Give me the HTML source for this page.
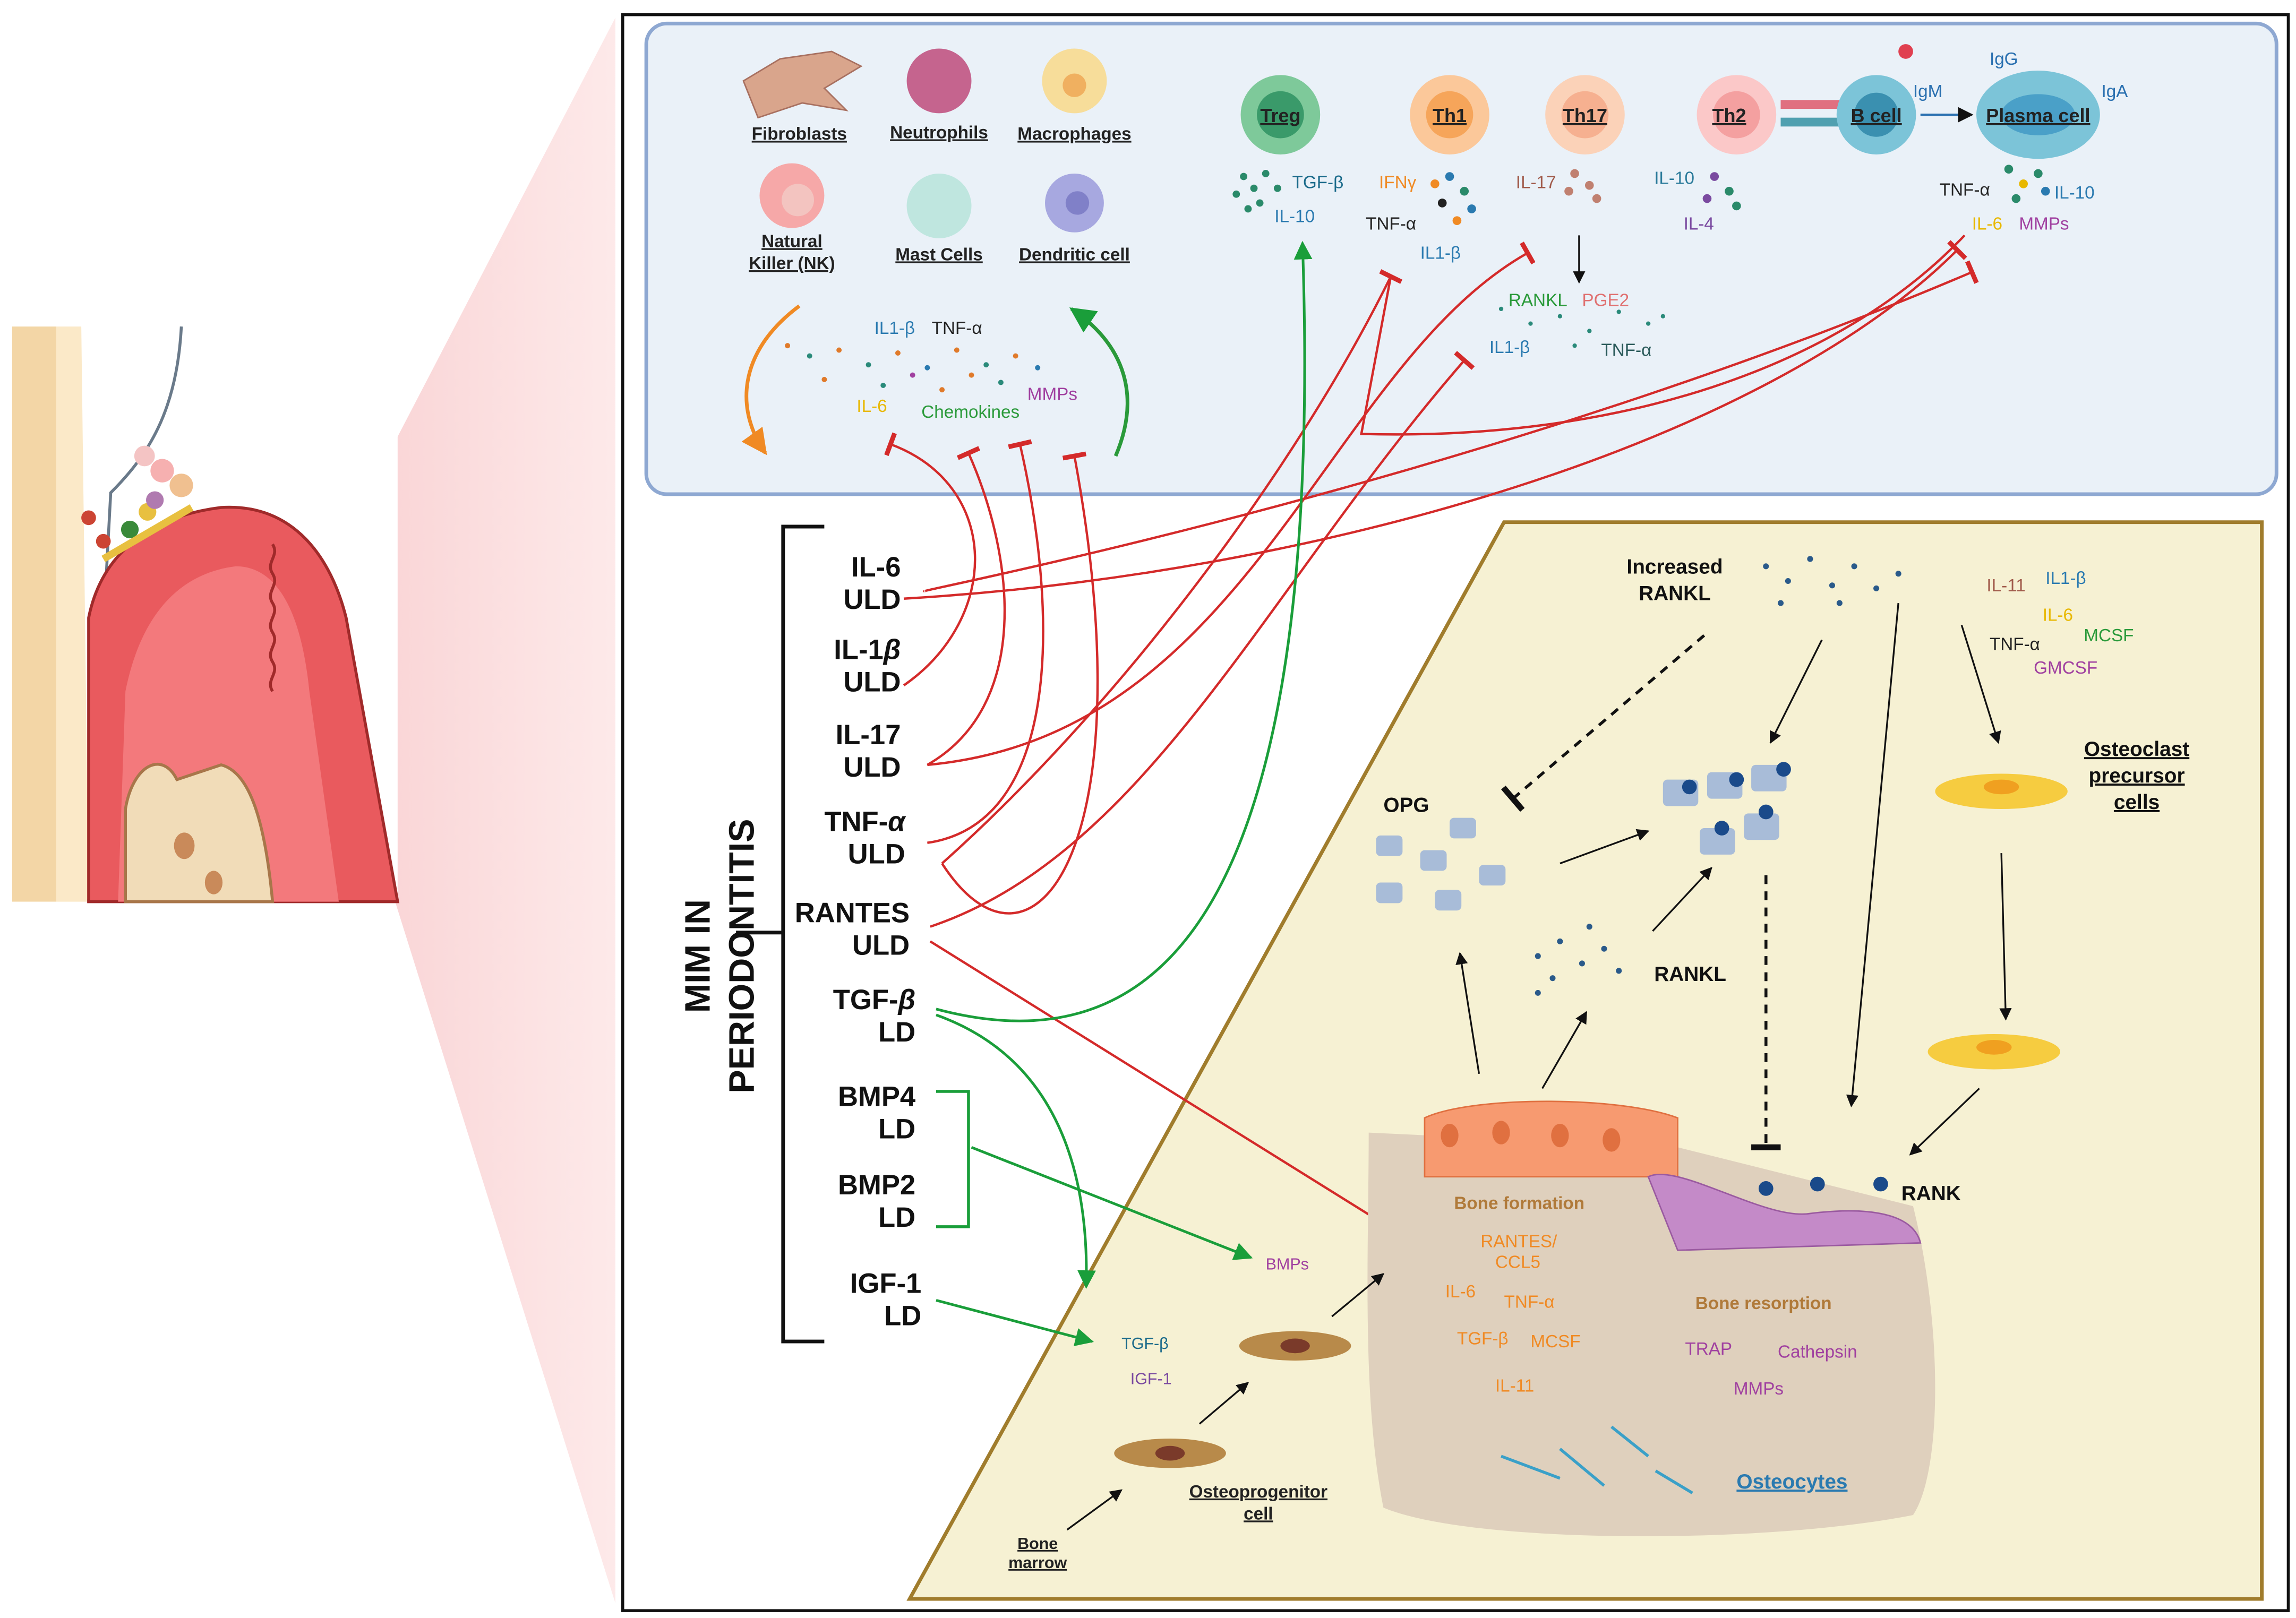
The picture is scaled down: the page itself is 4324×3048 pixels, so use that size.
<!DOCTYPE html>
<html><head><meta charset="utf-8"><style>
html,body{margin:0;padding:0;background:#fff}
svg{display:block}
text{font-family:"Liberation Sans",sans-serif}
</style></head><body>
<svg width="4324" height="3048" viewBox="0 0 1560 1100" xmlns="http://www.w3.org/2000/svg">
<defs>
<marker id="ab" viewBox="0 0 10 10" refX="9" refY="5" markerWidth="7" markerHeight="7" orient="auto"><path d="M0,0L10,5L0,10z" fill="#111"/></marker>
<marker id="ag" viewBox="0 0 10 10" refX="9" refY="5" markerWidth="7" markerHeight="7" orient="auto"><path d="M0,0L10,5L0,10z" fill="#1a9e3a"/></marker>
<marker id="ao" viewBox="0 0 10 10" refX="9" refY="5" markerWidth="7" markerHeight="7" orient="auto"><path d="M0,0L10,5L0,10z" fill="#f08a24"/></marker>
<marker id="tr" viewBox="0 0 10 10" refX="5" refY="5" markerWidth="10" markerHeight="10" orient="auto"><path d="M5,0L5,10" stroke="#d42a2a" stroke-width="2"/></marker>
<marker id="tb" viewBox="0 0 10 10" refX="5" refY="5" markerWidth="10" markerHeight="10" orient="auto"><path d="M5,0L5,10" stroke="#111" stroke-width="2"/></marker>
<linearGradient id="pk" x1="0" x2="1"><stop offset="0" stop-color="#f7c6c8"/><stop offset="1" stop-color="#fde4e4"/></linearGradient>
</defs>
<rect width="1560" height="1100" fill="#fff"/>
<!-- zoom trapezoid -->
<polygon points="232,370 418,12 418,1090 268,612" fill="url(#pk)" opacity="0.8"/>
<!-- tooth panel -->
<rect x="8" y="222" width="262" height="391" fill="#fff"/>
<rect x="8" y="222" width="30" height="391" fill="#f3d6a6"/>
<path d="M38,222 L55,222 L60,613 L38,613z" fill="#fbe9c8"/>
<path d="M123,222 C120,280 100,310 75,335 L60,613" fill="none" stroke="#6a7a8a" stroke-width="2"/>
<path d="M60,613 L60,420 C70,370 110,350 150,345 C200,342 225,380 235,420 L270,613z" fill="#e95a5e" stroke="#a02a2a" stroke-width="2"/>
<path d="M80,613 L85,470 C95,420 120,390 160,385 C190,385 205,420 210,470 L230,613z" fill="#f3797c"/>
<path d="M85,613 L85,550 C90,520 110,510 120,530 L150,520 C170,525 180,560 185,613z" fill="#f1dcb8" stroke="#a8764a" stroke-width="2"/>
<ellipse cx="125" cy="575" rx="7" ry="9" fill="#c98a5a"/><ellipse cx="145" cy="600" rx="6" ry="8" fill="#c98a5a"/>
<path d="M185,370 c5,8 -5,12 0,20 c5,8 -5,12 0,20 c5,8 -5,12 0,20 c5,8 -5,12 0,20 c5,8 -5,12 0,20" stroke="#a02a2a" fill="none" stroke-width="2"/>
<g fill="#c43">
<circle cx="60" cy="352" r="5"/><circle cx="70" cy="368" r="5"/><circle cx="88" cy="360" r="6" fill="#3a8a3a"/><circle cx="100" cy="348" r="6" fill="#e8c040"/><circle cx="110" cy="320" r="8" fill="#f6b0b0"/><circle cx="123" cy="330" r="8" fill="#f0c090"/><circle cx="98" cy="310" r="7" fill="#f4c4c4"/><circle cx="105" cy="340" r="6" fill="#b07ab0"/></g>
<path d="M70,380 L130,345" stroke="#e8c040" stroke-width="5"/>
<!-- main frame -->
<rect x="423" y="10" width="1132" height="1085" fill="#fff" stroke="#111" stroke-width="2"/>
<rect x="439" y="16" width="1108" height="320" rx="14" fill="#eaf1f8" stroke="#8ea8d2" stroke-width="2.5"/>
<polygon points="1022,355 1537,355 1537,1087 618,1087" fill="#f6f1d3" stroke="#a07c2c" stroke-width="2.5"/>
<!-- top panel cells -->
<g font-size="12" font-weight="bold" text-decoration="underline" text-anchor="middle" fill="#222">
<path d="M505,55 L530,40 L565,35 L585,45 L560,60 L575,75 L545,70 L515,80 z" fill="#d9a58c" stroke="#a87060"/>
<text x="543" y="95">Fibroblasts</text>
<circle cx="638" cy="55" r="22" fill="#c5648e"/><text x="638" y="94">Neutrophils</text>
<circle cx="730" cy="55" r="22" fill="#f7dd9a"/><circle cx="730" cy="58" r="8" fill="#f0b060"/><text x="730" y="95">Macrophages</text>
<circle cx="538" cy="133" r="22" fill="#f6a8a8"/><circle cx="542" cy="136" r="11" fill="#f3c4c0"/><text x="538" y="168">Natural</text><text x="538" y="183">Killer (NK)</text>
<circle cx="638" cy="140" r="22" fill="#bfe6df"/><text x="638" y="177">Mast Cells</text>
<circle cx="730" cy="138" r="20" fill="#a7a8e0"/><circle cx="732" cy="138" r="8" fill="#8080c8"/><text x="730" y="177">Dendritic cell</text>
</g>
<g font-size="13" font-weight="bold" text-decoration="underline" text-anchor="middle" fill="#222">
<circle cx="870" cy="78" r="27" fill="#7ec99a"/><circle cx="870" cy="78" r="16" fill="#3a9a6a"/><text x="870" y="83">Treg</text>
<circle cx="985" cy="78" r="27" fill="#fbc89a"/><circle cx="985" cy="78" r="16" fill="#f6a55a"/><text x="985" y="83">Th1</text>
<circle cx="1077" cy="78" r="27" fill="#fbd2b8"/><circle cx="1077" cy="78" r="16" fill="#f6b090"/><text x="1077" y="83">Th17</text>
<circle cx="1180" cy="78" r="27" fill="#fbc8c8"/><circle cx="1180" cy="78" r="16" fill="#f4a0a0"/><text x="1175" y="83">Th2</text>
<rect x="1210" y="68" width="40" height="6" fill="#e07080"/><rect x="1210" y="80" width="40" height="6" fill="#50a0b0"/>
<circle cx="1275" cy="78" r="27" fill="#7cc4d8"/><circle cx="1275" cy="78" r="15" fill="#3a90b0"/><text x="1275" y="83">B cell</text>
<ellipse cx="1385" cy="78" rx="42" ry="30" fill="#7cc4d8"/><ellipse cx="1385" cy="78" rx="25" ry="14" fill="#4aa0c8"/><text x="1385" y="83">Plasma cell</text>
</g>
<circle cx="1295" cy="35" r="5" fill="#e04050"/>
<path d="M1305,78 L1340,78" stroke="#2a70b0" stroke-width="1.5" marker-end="url(#ab)"/>
<g font-size="12" fill="#2a70b0"><text x="1300" y="66">IgM</text><text x="1352" y="44">IgG</text><text x="1428" y="66">IgA</text></g>
<g font-size="12">
<text x="878" y="128" fill="#1a6a8a">TGF-β</text><text x="866" y="151" fill="#2a7ab0">IL-10</text>
<text x="937" y="128" fill="#f08a24">IFNγ</text><text x="928" y="156" fill="#222">TNF-α</text><text x="965" y="176" fill="#2a7ab0">IL1-β</text>
<text x="1030" y="128" fill="#a05a4a">IL-17</text>
<text x="1124" y="125" fill="#2a7a9a">IL-10</text><text x="1144" y="156" fill="#7a4aa0">IL-4</text>
<text x="1318" y="133" fill="#222">TNF-α</text><text x="1396" y="135" fill="#2a7ab0">IL-10</text>
<text x="1340" y="156" fill="#e8b800">IL-6</text><text x="1372" y="156" fill="#a040a0">MMPs</text>
<text x="1025" y="208" fill="#2a9a3a">RANKL</text><text x="1075" y="208" fill="#e07070">PGE2</text>
<text x="1012" y="240" fill="#2a7ab0">IL1-β</text><text x="1088" y="242" fill="#2a5a5a">TNF-α</text>
<text x="594" y="227" fill="#2a7ab0">IL1-β</text><text x="633" y="227" fill="#222">TNF-α</text>
<text x="582" y="280" fill="#e8b800">IL-6</text><text x="626" y="284" fill="#2a9a3a">Chemokines</text><text x="698" y="272" fill="#a040a0">MMPs</text>
</g>
<!-- dots clusters -->
<g fill="#2a8a6a">
<circle cx="845" cy="120" r="2.5"/><circle cx="852" cy="128" r="2.5"/><circle cx="860" cy="118" r="2.5"/><circle cx="840" cy="132" r="2.5"/><circle cx="856" cy="138" r="2.5"/><circle cx="868" cy="128" r="2.5"/><circle cx="848" cy="142" r="2.5"/>
<circle cx="975" cy="125" r="3" fill="#f08a24"/><circle cx="985" cy="120" r="3" fill="#2a7ab0"/><circle cx="995" cy="130" r="3"/><circle cx="980" cy="138" r="3" fill="#222"/><circle cx="1000" cy="142" r="3" fill="#2a7ab0"/><circle cx="990" cy="150" r="3" fill="#f08a24"/>
<circle cx="1070" cy="118" r="3" fill="#c08070"/><circle cx="1080" cy="126" r="3" fill="#c08070"/><circle cx="1066" cy="130" r="3" fill="#c08070"/><circle cx="1085" cy="135" r="3" fill="#c08070"/>
<circle cx="1165" cy="120" r="3" fill="#7a4aa0"/><circle cx="1175" cy="130" r="3"/><circle cx="1160" cy="135" r="3" fill="#7a4aa0"/><circle cx="1180" cy="140" r="3"/>
<circle cx="1365" cy="115" r="3"/><circle cx="1375" cy="125" r="3" fill="#e8b800"/><circle cx="1385" cy="118" r="3"/><circle cx="1370" cy="135" r="3"/><circle cx="1390" cy="130" r="3" fill="#2a7ab0"/>
</g>
<g fill="#2a8a7a">
<circle cx="1020" cy="210" r="1.5"/><circle cx="1040" cy="220" r="1.5"/><circle cx="1060" cy="215" r="1.5"/><circle cx="1080" cy="225" r="1.5"/><circle cx="1100" cy="212" r="1.5"/><circle cx="1120" cy="220" r="1.5"/><circle cx="1070" cy="235" r="1.5"/><circle cx="1130" cy="215" r="1.5"/>
</g>
<g fill="#e07a2a">
<circle cx="535" cy="235" r="1.8"/><circle cx="550" cy="242" r="1.8" fill="#2a8a7a"/><circle cx="570" cy="238" r="1.8"/><circle cx="590" cy="248" r="1.8" fill="#2a8a7a"/><circle cx="610" cy="240" r="1.8"/><circle cx="630" cy="250" r="1.8" fill="#2a7ab0"/><circle cx="650" cy="238" r="1.8"/><circle cx="670" cy="248" r="1.8" fill="#2a8a7a"/><circle cx="690" cy="242" r="1.8"/><circle cx="705" cy="250" r="1.8" fill="#2a7ab0"/><circle cx="560" cy="258" r="1.8"/><circle cx="600" cy="262" r="1.8" fill="#2a8a7a"/><circle cx="640" cy="265" r="1.8"/><circle cx="680" cy="260" r="1.8" fill="#2a8a7a"/><circle cx="620" cy="255" r="1.8" fill="#a040a0"/><circle cx="660" cy="255" r="1.8"/>
</g>
<path d="M543,208 C500,240 500,280 520,308" stroke="#f08a24" stroke-width="2.5" fill="none" marker-end="url(#ao)"/>
<path d="M758,310 C775,270 765,235 728,210" stroke="#2a9a3a" stroke-width="2.5" fill="none" marker-end="url(#ag)"/>
<path d="M1073,160 L1073,192" stroke="#111" stroke-width="1.2" marker-end="url(#ab)"/>
<!-- bracket and labels -->
<text transform="translate(492,650) rotate(-90)" font-size="24" font-weight="bold" text-anchor="middle" fill="#111"><tspan x="0" y="-10">MIM IN</tspan><tspan x="0" y="20">PERIODONTITIS</tspan></text>
<path d="M560,358 L532,358 L532,912 L560,912 M500,634 L532,634" stroke="#111" stroke-width="2.5" fill="none"/>
<g font-size="19" font-weight="bold" fill="#111" text-anchor="end">
<text x="612" y="392">IL-6</text><text x="612" y="414">ULD</text>
<text x="612" y="448">IL-1<tspan font-style="italic">β</tspan></text><text x="612" y="470">ULD</text>
<text x="612" y="506">IL-17</text><text x="612" y="528">ULD</text>
<text x="615" y="565">TNF-<tspan font-style="italic">α</tspan></text><text x="615" y="587">ULD</text>
<text x="618" y="627">RANTES</text><text x="618" y="649">ULD</text>
<text x="622" y="686">TGF-<tspan font-style="italic">β</tspan></text><text x="622" y="708">LD</text>
<text x="622" y="752">BMP4</text><text x="622" y="774">LD</text>
<text x="622" y="812">BMP2</text><text x="622" y="834">LD</text>
<text x="626" y="879">IGF-1</text><text x="626" y="901">LD</text>
</g>
<path d="M636,742 L658,742 L658,834 L636,834" stroke="#1a9e3a" stroke-width="2" fill="none"/>
<!-- red inhibition lines -->
<g stroke="#d42a2a" stroke-width="1.6" fill="none" marker-end="url(#tr)">
<path d="M614,407 C900,390 1200,300 1330,170"/>
<path d="M628,402 C620,402 1000,330 1340,185"/>
<path d="M614,466 C680,420 680,330 605,302"/>
<path d="M630,520 C700,480 690,380 658,308"/>
<path d="M630,520 C850,500 900,250 1038,172"/>
<path d="M630,573 C720,560 720,420 693,302"/>
<path d="M640,587 C700,680 780,580 730,310"/>
<path d="M640,587 C760,480 880,320 945,188"/>
<path d="M632,630 C780,580 860,400 995,245"/>
<path d="M632,640 L945,835"/>
</g>
<path d="M945,188 L925,295 C1100,300 1250,250 1335,160" stroke="#d42a2a" stroke-width="1.6" fill="none"/>
<!-- green arrows -->
<g stroke="#1a9e3a" stroke-width="1.8" fill="none" marker-end="url(#ag)">
<path d="M636,686 C800,730 900,600 885,165"/>
<path d="M636,690 C720,720 740,800 738,875"/>
<path d="M660,780 L850,855"/>
<path d="M636,884 L742,912"/>
</g>
<!-- bone area -->
<path d="M930,770 L1140,780 L1300,820 C1320,900 1320,1000 1300,1030 C1200,1050 1000,1050 940,1025 C925,950 930,850 930,770z" fill="#dfd0bd"/>
<path d="M968,760 C1000,745 1100,745 1140,760 L1140,800 L968,800z" fill="#f79a70" stroke="#e07040"/>
<g fill="#e07040"><ellipse cx="985" cy="772" rx="6" ry="8"/><ellipse cx="1020" cy="770" rx="6" ry="8"/><ellipse cx="1060" cy="772" rx="6" ry="8"/><ellipse cx="1095" cy="775" rx="6" ry="8"/></g>
<path d="M1120,800 C1140,790 1200,830 1230,825 C1270,820 1300,825 1305,845 L1140,850z" fill="#c48ac8" stroke="#9a5aa0"/>
<g font-size="12" fill="#b07a3a" font-weight="bold"><text x="988" y="822">Bone formation</text><text x="1152" y="890">Bone resorption</text></g>
<g font-size="12" fill="#f08a24"><text x="1006" y="848">RANTES/</text><text x="1016" y="862">CCL5</text><text x="982" y="882">IL-6</text><text x="1022" y="889">TNF-α</text><text x="990" y="914">TGF-β</text><text x="1040" y="916">MCSF</text><text x="1016" y="946">IL-11</text></g>
<g font-size="12" fill="#a040a0"><text x="1145" y="921">TRAP</text><text x="1208" y="923">Cathepsin</text><text x="1178" y="948">MMPs</text></g>
<text x="1180" y="1012" font-size="14" font-weight="bold" fill="#2a7ab0" text-decoration="underline">Osteocytes</text>
<g stroke="#3aa0c8" stroke-width="2"><line x1="1020" y1="990" x2="1060" y2="1005"/><line x1="1060" y1="985" x2="1090" y2="1010"/><line x1="1095" y1="970" x2="1120" y2="990"/><line x1="1125" y1="1000" x2="1150" y2="1015"/></g>
<!-- bottom left osteo -->
<ellipse cx="795" cy="988" rx="38" ry="10" fill="#b88a4a"/><ellipse cx="795" cy="988" rx="10" ry="5" fill="#7a3a2a"/>
<ellipse cx="880" cy="915" rx="38" ry="10" fill="#b88a4a"/><ellipse cx="880" cy="915" rx="10" ry="5" fill="#7a3a2a"/>
<g font-size="11" font-weight="bold" fill="#222" text-decoration="underline" text-anchor="middle"><text x="855" y="1018" font-size="12">Osteoprogenitor</text><text x="855" y="1033" font-size="12">cell</text><text x="705" y="1053">Bone</text><text x="705" y="1066">marrow</text></g>
<g font-size="11"><text x="762" y="917" fill="#1a6a8a">TGF-β</text><text x="768" y="941" fill="#7a4aa0">IGF-1</text><text x="860" y="863" fill="#a040a0">BMPs</text></g>
<g stroke="#111" stroke-width="1.2" fill="none" marker-end="url(#ab)">
<path d="M725,1040 L762,1013"/><path d="M815,968 L848,940"/><path d="M905,895 L940,866"/>
<path d="M1005,730 L992,648"/><path d="M1048,740 L1078,688"/><path d="M1123,633 L1163,590"/><path d="M1060,587 L1120,565"/>
<path d="M1238,435 L1203,505"/><path d="M1290,410 L1258,752"/><path d="M1333,425 L1358,505"/><path d="M1360,580 L1363,693"/><path d="M1345,740 L1298,785"/>
</g>
<path d="M1158,432 L1028,543" stroke="#111" stroke-width="2" stroke-dasharray="6,5" fill="none" marker-end="url(#tb)"/>
<path d="M1200,595 L1200,780" stroke="#111" stroke-width="2" stroke-dasharray="6,5" fill="none" marker-end="url(#tb)"/>
<g font-size="14" font-weight="bold" fill="#111"><text x="1138" y="390" text-anchor="middle">Increased</text><text x="1138" y="408" text-anchor="middle">RANKL</text><text x="940" y="552">OPG</text><text x="1124" y="667">RANKL</text><text x="1292" y="816">RANK</text>
<g text-decoration="underline" text-anchor="middle"><text x="1452" y="514">Osteoclast</text><text x="1452" y="532">precursor</text><text x="1452" y="550">cells</text></g></g>
<g font-size="12"><text x="1350" y="402" fill="#a05a4a">IL-11</text><text x="1390" y="397" fill="#2a7ab0">IL1-β</text><text x="1388" y="422" fill="#e8b800">IL-6</text><text x="1416" y="436" fill="#2a9a3a">MCSF</text><text x="1352" y="442" fill="#222">TNF-α</text><text x="1382" y="458" fill="#a040a0">GMCSF</text></g>
<g fill="#2a5a8a"><circle cx="1200" cy="385" r="2"/><circle cx="1215" cy="395" r="2"/><circle cx="1230" cy="380" r="2"/><circle cx="1245" cy="398" r="2"/><circle cx="1260" cy="385" r="2"/><circle cx="1275" cy="400" r="2"/><circle cx="1290" cy="390" r="2"/><circle cx="1210" cy="410" r="2"/><circle cx="1250" cy="410" r="2"/>
<circle cx="1045" cy="650" r="2"/><circle cx="1060" cy="640" r="2"/><circle cx="1075" cy="655" r="2"/><circle cx="1090" cy="645" r="2"/><circle cx="1055" cy="665" r="2"/><circle cx="1080" cy="630" r="2"/><circle cx="1100" cy="660" r="2"/><circle cx="1045" cy="675" r="2"/></g>
<g fill="#a8bcd8"><rect x="935" y="568" width="18" height="14" rx="3"/><rect x="965" y="578" width="18" height="14" rx="3"/><rect x="985" y="556" width="18" height="14" rx="3"/><rect x="935" y="600" width="18" height="14" rx="3"/><rect x="975" y="605" width="18" height="14" rx="3"/><rect x="1005" y="588" width="18" height="14" rx="3"/>
<rect x="1130" y="530" width="24" height="18" rx="3"/><rect x="1160" y="525" width="24" height="18" rx="3"/><rect x="1190" y="520" width="24" height="18" rx="3"/><rect x="1155" y="563" width="24" height="18" rx="3"/><rect x="1185" y="553" width="24" height="18" rx="3"/></g>
<g fill="#1a4a8a"><circle cx="1148" cy="535" r="5"/><circle cx="1180" cy="530" r="5"/><circle cx="1212" cy="523" r="5"/><circle cx="1170" cy="563" r="5"/><circle cx="1200" cy="552" r="5"/><circle cx="1200" cy="808" r="5"/><circle cx="1235" cy="805" r="5"/><circle cx="1278" cy="805" r="5"/></g>
<ellipse cx="1360" cy="538" rx="45" ry="12" fill="#f6cc40"/><ellipse cx="1360" cy="535" rx="12" ry="5" fill="#f0a020"/>
<ellipse cx="1355" cy="715" rx="45" ry="12" fill="#f6cc40"/><ellipse cx="1355" cy="712" rx="12" ry="5" fill="#f0a020"/>
</svg>
</body></html>
